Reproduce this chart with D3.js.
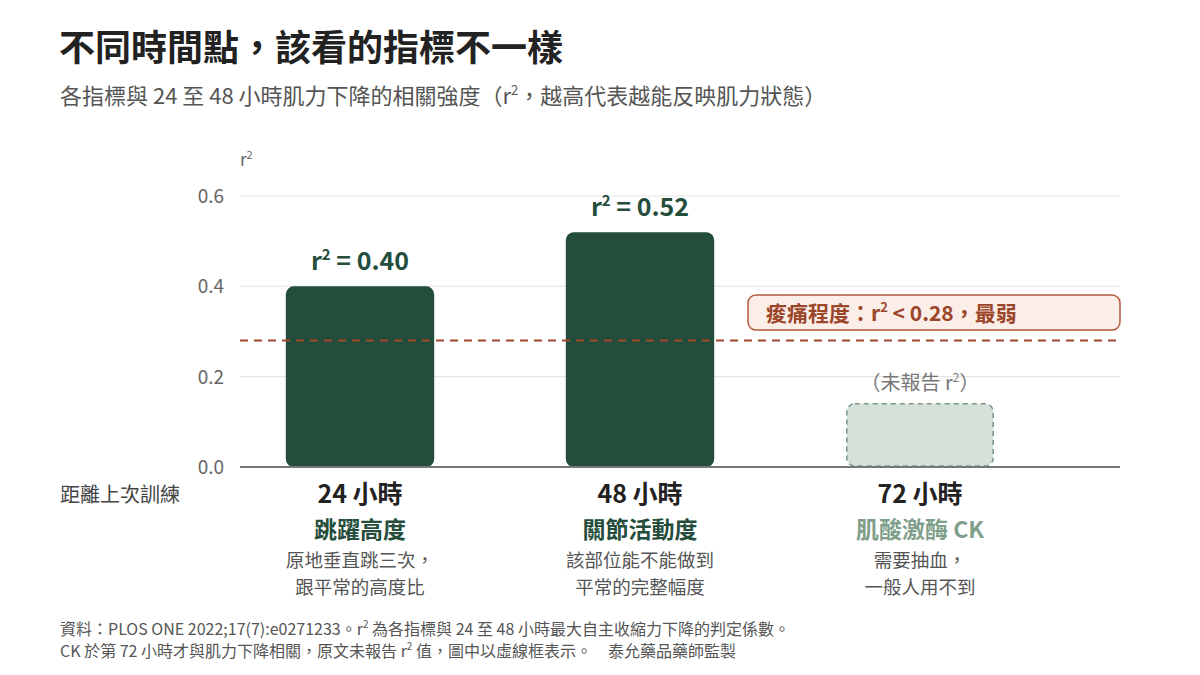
<!DOCTYPE html>
<html><head><meta charset="utf-8">
<script src="https://cdn.jsdelivr.net/npm/d3@7"></script>
<style>
body{margin:0;background:#fff;}
svg{font-family:"Noto Sans CJK TC","Noto Sans",sans-serif;}
</style></head>
<body>
<svg id="c" width="1200" height="675"></svg>
<script>
const categories = ["24 小時", "48 小時", "72 小時"];
const metrics = ["跳躍高度", "關節活動度", "肌酸激酶 CK"];
const descLine1 = ["原地垂直跳三次，", "該部位能不能做到", "需要抽血，"];
const descLine2 = ["跟平常的高度比", "平常的完整幅度", "一般人用不到"];
const r2Values = [0.40, 0.52, null];
const placeholderValue = 0.14;
const sorenessThreshold = 0.28;
const yTicks = [0.0, 0.2, 0.4, 0.6];

const svg = d3.select("#c");
const x = d3.scaleBand().domain(categories).range([220, 1060]).paddingInner(0.47).paddingOuter(0.235);
const y = d3.scaleLinear().domain([0, 0.6]).range([467, 196]);
const gridX0 = 240, gridX1 = 1120;

// title
svg.append("text").attr("x", 59).attr("y", 61).attr("font-size", 36).attr("font-weight", 700).attr("fill", "#222").text("不同時間點，該看的指標不一樣");
const sub = svg.append("text").attr("x", 60).attr("y", 104).attr("font-size", 22).attr("fill", "#555");
sub.append("tspan").text("各指標與 24 至 48 小時肌力下降的相關強度（r");
sub.append("tspan").attr("font-size", 13).attr("dy", -9).text("2");
sub.append("tspan").attr("dy", 9).text("，越高代表越能反映肌力狀態）");

// axis label
const al = svg.append("text").attr("x", 240).attr("y", 166).attr("font-size", 17).attr("fill", "#666");
al.append("tspan").text("r");
al.append("tspan").attr("font-size", 11).attr("dy", -7).text("2");

// grid
svg.selectAll(".grid").data(yTicks.filter(d => d > 0)).join("line")
  .attr("x1", gridX0).attr("x2", gridX1).attr("y1", d => y(d)).attr("y2", d => y(d))
  .attr("stroke", "#e6e6e3").attr("stroke-width", 1.2);
svg.selectAll(".tick").data(yTicks).join("text")
  .attr("x", 224).attr("y", d => y(d) + 7).attr("text-anchor", "end")
  .attr("font-size", 19).attr("fill", "#666").text(d => d.toFixed(1));

// bars
const real = categories.map((c, i) => ({c, v: r2Values[i]})).filter(d => d.v !== null);
svg.selectAll(".bar").data(real).join("rect")
  .attr("x", d => x(d.c)).attr("width", x.bandwidth())
  .attr("y", d => y(d.v)).attr("height", d => y(0) - y(d.v))
  .attr("rx", 8).attr("fill", "#244d3b");
// placeholder
svg.append("rect").attr("x", x(categories[2]) + 1).attr("width", x.bandwidth() - 2)
  .attr("y", y(placeholderValue)).attr("height", y(0) - y(placeholderValue) - 1)
  .attr("rx", 8).attr("fill", "#d6e1da").attr("stroke", "#7c9a88").attr("stroke-width", 1.6).attr("stroke-dasharray", "5,4");
const ph = svg.append("text").attr("x", x(categories[2]) + x.bandwidth() / 2).attr("y", 390).attr("text-anchor", "middle").attr("font-size", 20).attr("fill", "#777");
ph.append("tspan").text("（未報告 r");
ph.append("tspan").attr("font-size", 12).attr("dy", -8).text("2");
ph.append("tspan").attr("dy", 8).text("）");

// value labels
real.forEach(d => {
  const t = svg.append("text").attr("x", x(d.c) + x.bandwidth() / 2).attr("y", y(d.v) - 16)
    .attr("text-anchor", "middle").attr("font-size", 25).attr("font-weight", 700).attr("fill", "#244d3b");
  t.append("tspan").text("r");
  t.append("tspan").attr("font-size", 15).attr("dy", -10).text("2");
  t.append("tspan").attr("dy", 10).text(" = " + d.v.toFixed(2));
});

// baseline
svg.append("line").attr("x1", gridX0).attr("x2", gridX1).attr("y1", y(0)).attr("y2", y(0)).attr("stroke", "#777").attr("stroke-width", 2);

// threshold
svg.append("line").attr("x1", gridX0).attr("x2", gridX1).attr("y1", y(sorenessThreshold)).attr("y2", y(sorenessThreshold))
  .attr("stroke", "#a3492d").attr("stroke-width", 2).attr("stroke-dasharray", "8,6");
svg.append("rect").attr("x", 748).attr("y", 295).attr("width", 372).attr("height", 35).attr("rx", 8)
  .attr("fill", "#fbede8").attr("stroke", "#b25a3e").attr("stroke-width", 1.5);
const ann = svg.append("text").attr("x", 766).attr("y", 321).attr("font-size", 21).attr("font-weight", 700).attr("fill", "#9b4529");
ann.append("tspan").text("痠痛程度：r");
ann.append("tspan").attr("font-size", 13).attr("dy", -9).text("2");
ann.append("tspan").attr("dy", 9).text(" < " + sorenessThreshold.toFixed(2) + "，最弱");

// category labels
svg.append("text").attr("x", 60).attr("y", 502).attr("font-size", 20).attr("fill", "#444").text("距離上次訓練");
categories.forEach((c, i) => {
  const cx = x(c) + x.bandwidth() / 2;
  svg.append("text").attr("x", cx).attr("y", 503).attr("text-anchor", "middle").attr("font-size", 25).attr("font-weight", 700).attr("fill", "#222").text(c);
  svg.append("text").attr("x", cx).attr("y", 537.5).attr("text-anchor", "middle").attr("font-size", 23).attr("font-weight", 700)
    .attr("fill", r2Values[i] === null ? "#7f9f8a" : "#244d3b").text(metrics[i]);
  svg.append("text").attr("x", cx).attr("y", 567).attr("text-anchor", "middle").attr("font-size", 18.5).attr("fill", "#555").text(descLine1[i]);
  svg.append("text").attr("x", cx).attr("y", 594).attr("text-anchor", "middle").attr("font-size", 18.5).attr("fill", "#555").text(descLine2[i]);
});

// footnote
const f1 = svg.append("text").attr("x", 60).attr("y", 635).attr("font-size", 16).attr("fill", "#555");
f1.append("tspan").text("資料：PLOS ONE 2022;17(7):e0271233。r");
f1.append("tspan").attr("font-size", 10).attr("dy", -7).text("2");
f1.append("tspan").attr("dy", 7).text(" 為各指標與 24 至 48 小時最大自主收縮力下降的判定係數。");
const f2 = svg.append("text").attr("x", 60).attr("y", 657).attr("font-size", 16).attr("fill", "#555");
f2.append("tspan").text("CK 於第 72 小時才與肌力下降相關，原文未報告 r");
f2.append("tspan").attr("font-size", 10).attr("dy", -7).text("2");
f2.append("tspan").attr("dy", 7).text(" 值，圖中以虛線框表示。　泰允藥品藥師監製");
</script>
</body></html>
